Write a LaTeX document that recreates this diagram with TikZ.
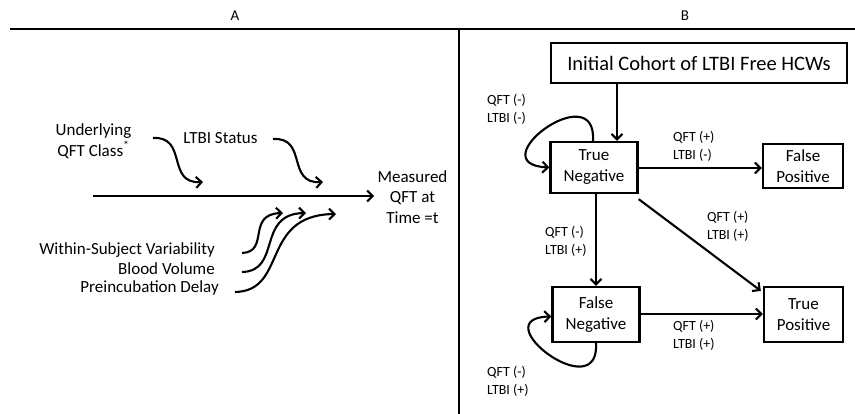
\documentclass[tikz,border=0pt]{standalone}
\usepackage{fontspec}
\setmainfont{Carlito}
\usetikzlibrary{arrows.meta}
\begin{document}
\begin{tikzpicture}[x=1pt,y=-1pt,
 arr/.style={line width=2.1pt,-{Straight Barb[length=5.5pt,width=11pt]}},
 frame/.style={line width=2.2pt},
 box/.style={draw,line width=2.3pt,align=center,inner sep=0pt,font=\fontsize{17}{21}\selectfont},
 lab/.style={align=left,font=\fontsize{14}{18}\selectfont,anchor=west,inner sep=0pt},
 txt/.style={font=\fontsize{17}{20.5}\selectfont,inner sep=0pt},
 head/.style={font=\fontsize{15}{17}\selectfont,inner sep=0pt}
]
\useasboundingbox (0,0) rectangle (855,414);
% frame
\coordinate (hl) at (10,29);
\coordinate (hr) at (855,29);
\coordinate (vt) at (459,29);
\coordinate (vb) at (459,414);
\draw[frame] (hl) -- (hr);
\draw[frame] (vt) -- (vb);
\node[head] (A) at (235,16) {A};
\node[head] (B) at (685,16) {B};

% ---------- Panel A ----------
\node[txt,align=center] (under) at (93.5,141) {Underlying\\QFT Class\textsuperscript{*}};
\node[txt] (ltbi) at (220.5,138) {LTBI Status};
\node[txt,align=center] (meas) at (412.5,197) {Measured\\QFT at\\Time =t};
\node[txt,anchor=east] (wsv) at (215,250) {Within-Subject Variability};
\node[txt,anchor=east] (bv) at (215,269) {Blood Volume};
\node[txt,anchor=east] (pd) at (219,288) {Preincubation Delay};

\coordinate (ms) at (93,196);
\coordinate (me) at (374,196);
\draw[arr] (ms) -- (me);

\coordinate (u0) at (153,138);
\coordinate (u1) at (203,182);
\draw[arr] (u0) .. controls (188,136) and (166,184) .. (u1);
\coordinate (s0) at (273,139);
\coordinate (s1) at (323,182);
\draw[arr] (s0) .. controls (308,137) and (286,184) .. (s1);

\coordinate (w0) at (242,253);
\coordinate (w1) at (283,213);
\draw[arr] (w0) .. controls (270,252) and (246,214) .. (w1);
\coordinate (b0) at (242,272);
\coordinate (b1) at (306,213);
\draw[arr] (b0) .. controls (282,271) and (256,214) .. (b1);
\coordinate (p0) at (235,292);
\coordinate (p1) at (336,214);
\draw[arr] (p0) .. controls (288,291) and (260,215) .. (p1);

% ---------- Panel B ----------
\node[box,minimum width=296pt,minimum height=40pt,font=\fontsize{20.5}{22}\selectfont] (init) at (699,63) {Initial Cohort of LTBI Free HCWs};
\node[box,minimum width=87pt,minimum height=51pt] (TN) at (594,167.5) {True\\Negative};
\node[box,minimum width=80pt,minimum height=44pt] (FP) at (803,166) {False\\Positive};
\node[box,minimum width=87pt,minimum height=55pt] (FN) at (596,314.5) {False\\Negative};
\node[box,minimum width=79pt,minimum height=55pt] (TP) at (803.5,314.5) {True\\Positive};

\draw[arr] ([xshift=23pt]TN.north |- init.south) -- ([xshift=23pt]TN.north);
\draw[arr] ([yshift=-0.5pt]TN.east) -- ([yshift=-0.5pt]TN.east -| FP.west);
\draw[arr] (TN.south -| FN.north) -- (FN.north);
\draw[arr] (TN.south east) ++(0,5) coordinate (d0) (d0) -- ([xshift=-2pt,yshift=-5pt]TP.north west);
\draw[arr] ([yshift=0.5pt]FN.east) -- ([yshift=0.5pt]FN.east -| TP.west);

\draw[arr] ([xshift=-1pt]TN.north) .. controls (597,75) and (478,164) .. (TN.west);
\draw[arr] (FN.south) .. controls (600,408) and (482,318) .. ([yshift=-2pt]FN.west);

\node[lab] (t1) at (487,109.5) {QFT (-)\\LTBI (-)};
\node[lab] (t2) at (673,146) {QFT (+)\\LTBI (-)};
\node[lab] (t3) at (707,226) {QFT (+)\\LTBI (+)};
\node[lab] (t4) at (545,241) {QFT (-)\\LTBI (+)};
\node[lab] (t5) at (673,335.5) {QFT (+)\\LTBI (+)};
\node[lab] (t6) at (487,381) {QFT (-)\\LTBI (+)};
\end{tikzpicture}
\end{document}
